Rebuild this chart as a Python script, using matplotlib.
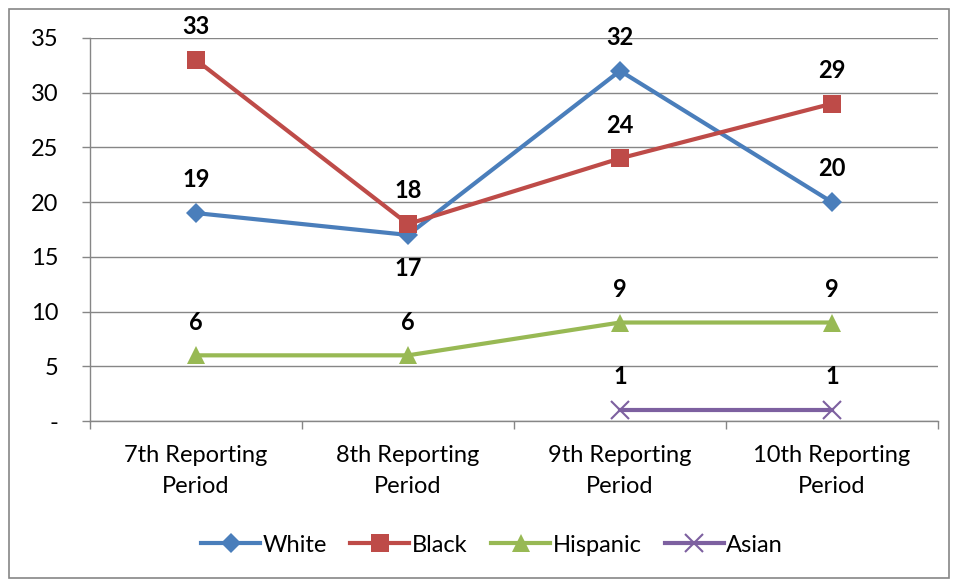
import numpy as np
import matplotlib
matplotlib.use('Agg')
import matplotlib.pyplot as plt
from matplotlib.patches import Rectangle

categories = ['7th Reporting\nPeriod', '8th Reporting\nPeriod',
              '9th Reporting\nPeriod', '10th Reporting\nPeriod']
white = [19, 17, 32, 20]
black = [33, 18, 24, 29]
hispanic = [6, 6, 9, 9]
asian = [None, None, 1, 1]
yticks = [0, 5, 10, 15, 20, 25, 30, 35]
yticklabels = ['-', '5', '10', '15', '20', '25', '30', '35']

plt.rcParams['font.family'] = ['Lato', 'DejaVu Sans']

fig = plt.figure(figsize=(9.58, 5.81), dpi=100)
ax = fig.add_axes([90/958, 1-421/581, 848/958, 383/581])

x = np.arange(len(categories))
series = [
	('White', white, '#4A7EBB', 'D', 10),
	('Black', black, '#BE4B48', 's', 13),
	('Hispanic', hispanic, '#98B954', '^', 13),
	('Asian', asian, '#7D60A0', 'x', 13),
]

for name, vals, col, mk, ms in series:
	xs = [xi for xi, v in zip(x, vals) if v is not None]
	ys = [v for v in vals if v is not None]
	ax.plot(xs, ys, color=col, lw=3.0, marker=mk, ms=ms, mew=1.5 if mk == 'x' else 0,
		mec=col, mfc=col, label=name, zorder=3)
	for xi, yi in zip(xs, ys):
		# the low White point has its label under the marker
		off = -24 if (name == 'White' and yi == 17) else 24
		ax.annotate(str(yi), (xi, yi), xytext=(0, off), textcoords='offset points',
			ha='center', va='center', fontsize=17, fontweight='bold', color='black')

ax.set_xlim(-0.5, 3.5)
ax.set_ylim(0, 35)
ax.set_yticks(yticks)
ax.set_yticklabels(yticklabels)
ax.set_xticks(x)
ax.set_xticklabels(categories, linespacing=1.6)
ax.set_xticks(np.arange(-0.5, 4, 1), minor=True)
ax.tick_params(axis='x', which='major', length=0, pad=17, labelsize=17)
ax.tick_params(axis='x', which='minor', length=6, color='#868686', width=1)
ax.tick_params(axis='y', length=6, color='#868686', width=1, labelsize=17, pad=17)
ax.grid(axis='y', color='#868686', lw=1)
ax.set_axisbelow(True)
for s in ['top', 'right']:
	ax.spines[s].set_visible(False)
for s in ['left', 'bottom']:
	ax.spines[s].set_color('#868686')
	ax.spines[s].set_linewidth(1)

leg = fig.legend(loc='center', bbox_to_anchor=(492/958, 1-545/581), ncol=4, frameon=False,
	fontsize=17, handlelength=2.5, handletextpad=0.1, columnspacing=1.0)

fig.patches.append(Rectangle((9/958, 3/581), 940/958, 569/581, transform=fig.transFigure,
	fill=False, edgecolor='#868686', lw=1.2))

fig.savefig('out.png', dpi=100)
